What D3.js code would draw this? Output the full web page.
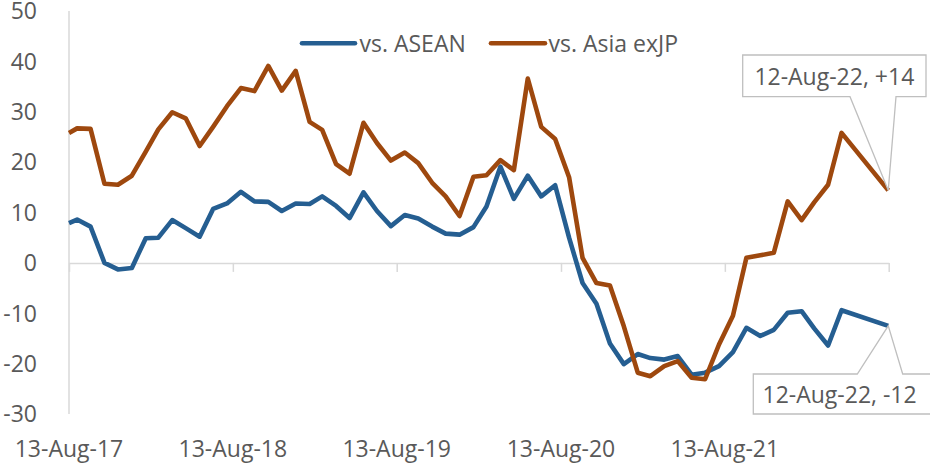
<!DOCTYPE html>
<html>
<head>
<meta charset="utf-8">
<script src="https://cdn.jsdelivr.net/npm/d3@7/dist/d3.min.js"></script>
<style>
  html, body { margin: 0; padding: 0; background: #fff; }
  svg { display: block; font-family: "Open Sans", "Noto Sans", sans-serif; }
</style>
</head>
<body>
<svg id="chart" width="930" height="463"></svg>
<script>
// ---- data ----
const dates = [
  "2017-08-13","2017-08-31","2017-09-30","2017-10-31","2017-11-30","2017-12-31",
  "2018-01-31","2018-02-28","2018-03-31","2018-04-30","2018-05-31","2018-06-30",
  "2018-07-31","2018-08-31","2018-09-30","2018-10-31","2018-11-30","2018-12-31",
  "2019-01-31","2019-02-28","2019-03-31","2019-04-30","2019-05-31","2019-06-30",
  "2019-07-31","2019-08-31","2019-09-30","2019-10-31","2019-11-30","2019-12-31",
  "2020-01-31","2020-02-29","2020-03-31","2020-04-30","2020-05-31","2020-06-30",
  "2020-07-31","2020-08-31","2020-09-30","2020-10-31","2020-11-30","2020-12-31",
  "2021-01-31","2021-02-28","2021-03-31","2021-04-30","2021-05-31","2021-06-30",
  "2021-07-31","2021-08-31","2021-09-30","2021-10-31","2021-11-30","2021-12-31",
  "2022-01-31","2022-02-28","2022-03-31","2022-04-30","2022-08-12"
];
const vsASEAN = [
  7.9, 8.6, 7.2, 0.0, -1.3, -1.0,
  4.9, 5.0, 8.5, 6.9, 5.2, 10.7,
  11.8, 14.1, 12.2, 12.1, 10.3, 11.8,
  11.7, 13.2, 11.3, 8.9, 14.0, 10.3,
  7.3, 9.5, 8.8, 7.2, 5.8, 5.6,
  7.1, 11.2, 19.1, 12.7, 17.3, 13.2,
  15.4, 5.0, -4.0, -8.1, -16.0, -20.1,
  -18.1, -18.9, -19.2, -18.5, -22.2, -21.8,
  -20.5, -17.7, -12.9, -14.5, -13.3, -9.9,
  -9.6, -13.0, -16.4, -9.4, -12.5
];
const vsAsiaExJP = [
  25.8, 26.7, 26.6, 15.7, 15.5, 17.3,
  22.1, 26.5, 29.9, 28.7, 23.2, 27.0,
  31.1, 34.7, 34.1, 39.1, 34.2, 38.1,
  28.0, 26.4, 19.6, 17.7, 27.8, 23.8,
  20.3, 21.9, 19.8, 15.9, 13.2, 9.3,
  17.1, 17.4, 20.4, 18.4, 36.6, 27.0,
  24.6, 17.0, 1.0, -4.0, -4.5, -12.6,
  -21.8, -22.5, -20.5, -19.5, -22.8, -23.1,
  -16.2, -10.5, 1.0, 1.5, 2.0, 12.2,
  8.5, 12.0, 15.5, 25.8, 14.4
];
const seriesNames = ["vs. ASEAN", "vs. Asia exJP"];
const seriesColors = ["#255E91", "#9E480E"];
const yTicks = [-30, -20, -10, 0, 10, 20, 30, 40, 50];
const xTickDates = ["2017-08-13","2018-08-13","2019-08-13","2020-08-13","2021-08-13","2022-08-13"];
const annotationLabels = ["12-Aug-22, -12", "12-Aug-22, +14"];

// ---- setup ----
const parse = d3.timeParse("%Y-%m-%d");
const fmt = d3.timeFormat("%d-%b-%y");
const svg = d3.select("#chart");
const textColor = "#595959";
const axisColor = "#d9d9d9";
const fontSize = 23;

const x = d3.scaleTime()
  .domain([parse("2017-08-13"), parse("2022-08-13")])
  .range([69, 888.7]);
const y = d3.scaleLinear().domain([-30, 50]).range([414, 11]);

// y axis line
svg.append("line")
  .attr("x1", x.range()[0]).attr("x2", x.range()[0])
  .attr("y1", y(50)).attr("y2", y(-30))
  .attr("stroke", axisColor).attr("stroke-width", 1.5);

// y labels
svg.append("g").selectAll("text").data(yTicks).join("text")
  .attr("x", 37).attr("y", d => y(d)).attr("dy", "0.36em")
  .attr("text-anchor", "end").attr("fill", textColor)
  .attr("font-size", fontSize).text(d => d);

// zero line with ticks
const xAxis = d3.axisBottom(x)
  .tickValues(xTickDates.map(parse))
  .tickSize(9).tickSizeOuter(0).tickFormat("");
const gx = svg.append("g").attr("transform", `translate(0,${y(0)})`).call(xAxis);
gx.select(".domain").attr("stroke", axisColor).attr("stroke-width", 1.5);
gx.selectAll(".tick line").attr("stroke", axisColor).attr("stroke-width", 1.5);

// x labels at bottom
svg.append("g").selectAll("text").data(xTickDates.slice(0, 5).map(parse)).join("text")
  .attr("x", d => x(d)).attr("y", 456.5)
  .attr("text-anchor", "middle").attr("fill", textColor)
  .attr("font-size", fontSize).text(d => fmt(d));

// lines
const series = [vsASEAN, vsAsiaExJP];
const line = d3.line()
  .x((d, i) => x(parse(dates[i])))
  .y(d => y(d));
series.forEach((vals, k) => {
  svg.append("path")
    .datum(vals)
    .attr("d", line)
    .attr("fill", "none")
    .attr("stroke", seriesColors[k])
    .attr("stroke-width", 4.6)
    .attr("stroke-linejoin", "round")
    .attr("stroke-linecap", "butt");
});

// legend
const legendItems = [
  { sx1: 302, sx2: 355, tx: 359.5 },
  { sx1: 491, sx2: 545, tx: 548.5 }
];
const lg = svg.append("g");
legendItems.forEach((it, k) => {
  lg.append("line")
    .attr("x1", it.sx1).attr("x2", it.sx2)
    .attr("y1", 43.3).attr("y2", 43.3)
    .attr("stroke", seriesColors[k]).attr("stroke-width", 4.6)
    .attr("stroke-linecap", "round");
  lg.append("text")
    .attr("x", it.tx).attr("y", 43.3).attr("dy", "0.36em")
    .attr("fill", textColor).attr("font-size", fontSize)
    .text(seriesNames[k]);
});

// callouts
const lastIdx = dates.length - 1;
const lastX = x(parse(dates[lastIdx]));
const calloutStroke = "#bfbfbf";
// upper (Asia exJP)
{
  const px = lastX, py = y(vsAsiaExJP[lastIdx]);
  const L = 742.7, R = 926, T = 55, B = 96.7;
  svg.append("path")
    .attr("d", `M${L},${T}H${R}V${B}H896L${px},${py}L850,${B}H${L}Z`)
    .attr("fill", "#fff").attr("stroke", calloutStroke).attr("stroke-width", 1.3);
  svg.append("text")
    .attr("x", (L + R) / 2).attr("y", 85)
    .attr("text-anchor", "middle").attr("fill", textColor)
    .attr("font-size", fontSize).text(annotationLabels[1]);
}
// lower (ASEAN)
{
  const px = lastX, py = y(vsASEAN[lastIdx]);
  const L = 753.3, R = 937, T = 374, B = 414;
  svg.append("path")
    .attr("d", `M${L},${T}H857.3L${px},${py}L902.7,${T}H${R}V${B}H${L}Z`)
    .attr("fill", "#fff").attr("stroke", calloutStroke).attr("stroke-width", 1.3);
  svg.append("text")
    .attr("x", 762.5).attr("y", 403.3)
    .attr("fill", textColor)
    .attr("font-size", fontSize).text(annotationLabels[0]);
}
</script>
</body>
</html>
